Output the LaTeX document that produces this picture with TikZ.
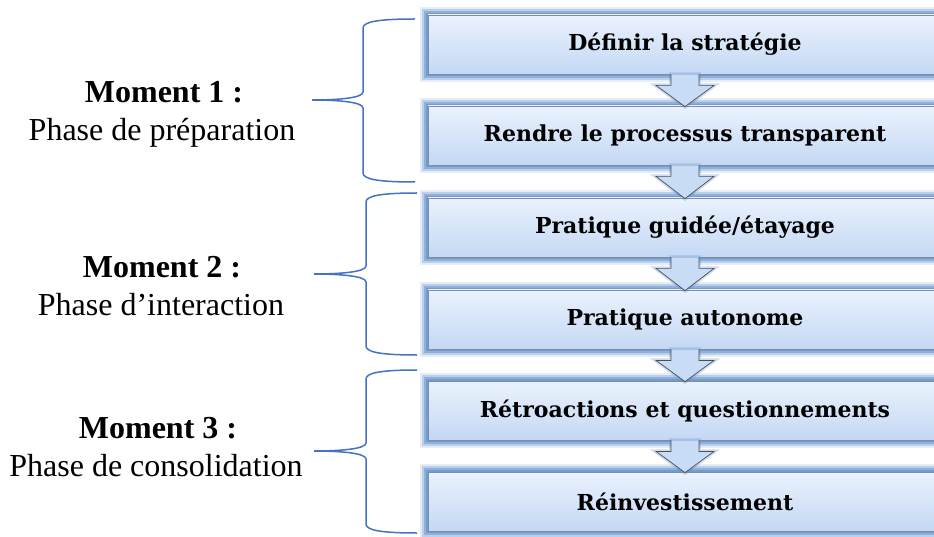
\documentclass[tikz,border=0pt]{standalone}
\usepackage{fontspec}
\setmainfont{Liberation Serif}
\newfontfamily\boxfont{DejaVu Serif}
\definecolor{bracec}{HTML}{4472C4}
\definecolor{boxtop}{HTML}{EAF2FD}
\definecolor{boxbot}{HTML}{C4D8F4}
\definecolor{boxline}{HTML}{7F8DA2}
\definecolor{glowc}{HTML}{5A8CCB}
\definecolor{arrowfill}{HTML}{C9DCF5}
\definecolor{arrowline}{HTML}{4A4F57}
\newcommand\drawbrace[6]{% spine x, top y, mid y, bottom y, tip x, end x
  \draw[bracestyle] (#6,#2) .. controls ({#1+14},#2) and (#1,{#2+3}) .. (#1,{#2+9})
    -- (#1,{#3-8}) .. controls (#1,{#3-2}) and ({#5+26},#3) .. (#5,#3)
    .. controls ({#5+26},#3) and (#1,{#3+2}) .. (#1,{#3+8})
    -- (#1,{#4-9}) .. controls (#1,{#4-3}) and ({#1+14},#4) .. (#6,#4);}
\begin{document}
\begin{tikzpicture}[x=1pt,y=-1pt,
  bracestyle/.style={draw=bracec, line width=1.5pt},
  stepbox/.style={rectangle, minimum width=514pt, minimum height=59pt,
    top color=boxtop, bottom color=boxbot, draw=boxline, line width=0.8pt,
    font=\boxfont\bfseries\fontsize{22}{26}\selectfont, inner sep=0pt,
    preaction={draw=glowc, line width=16pt, opacity=0.15, rounded corners=7pt},
    preaction={draw=glowc, line width=12pt, opacity=0.3, rounded corners=5pt},
    preaction={draw=glowc, line width=8pt, opacity=0.45, rounded corners=3pt},
    preaction={draw=glowc, line width=4pt, opacity=0.55}},
  moment/.style={anchor=base, font=\bfseries\fontsize{32}{36}\selectfont, inner sep=0pt},
  phase/.style={anchor=base, font=\fontsize{32}{36}\selectfont, inner sep=0pt}]
\clip (0,0) rectangle (934,537);
\fill[white] (0,0) rectangle (934,537);

\node[stepbox] (b1) at (685,44.5) {\raisebox{-2pt}{Définir la stratégie}};
\node[stepbox] (b2) at (685,135.5) {\raisebox{-2pt}{Rendre le processus transparent}};
\node[stepbox] (b3) at (685,227.5) {\raisebox{-2pt}{Pratique guidée/étayage}};
\node[stepbox] (b4) at (685,319.5) {\raisebox{-2pt}{Pratique autonome}};
\node[stepbox] (b5) at (685,410.5) {\raisebox{-2pt}{Rétroactions et questionnements}};
\node[stepbox] (b6) at (685,501.5) {\raisebox{-2pt}{Réinvestissement}};

\foreach \i/\j in {1/2,2/3,3/4,4/5,5/6}{
  \fill[arrowfill, preaction={draw=glowc, line width=4pt, opacity=0.3}]
    ([xshift=-14pt]b\i.south) -- ([xshift=-14pt,yshift=-11pt]b\i.south)
    -- ([xshift=-29pt,yshift=-11pt]b\i.south) -- ([yshift=-1pt]b\j.north)
    -- ([xshift=29pt,yshift=-11pt]b\i.south) -- ([xshift=14pt,yshift=-11pt]b\i.south)
    -- ([xshift=14pt]b\i.south) -- cycle;
  \draw[arrowline, line width=0.7pt]
    ([xshift=-14pt]b\i.south) -- ([xshift=-14pt,yshift=-11pt]b\i.south)
    -- ([xshift=-29pt,yshift=-11pt]b\i.south) -- ([yshift=-1pt]b\j.north)
    -- ([xshift=29pt,yshift=-11pt]b\i.south) -- ([xshift=14pt,yshift=-11pt]b\i.south)
    -- ([xshift=14pt]b\i.south);
}

\drawbrace{363}{19}{100}{182}{312}{415}
\drawbrace{366}{193}{274}{355}{314}{417}
\drawbrace{366}{370}{451}{533}{314}{417}

\node[moment] (m1) at (164,103) {Moment 1 :};
\node[phase] (p1) at (162,141) {Phase de préparation};
\node[moment] (m2) at (162,277) {Moment 2 :};
\node[phase] (p2) at (161,316) {Phase d’interaction};
\node[moment] (m3) at (158,438) {Moment 3 :};
\node[phase] (p3) at (156,476) {Phase de consolidation};
\end{tikzpicture}
\end{document}
